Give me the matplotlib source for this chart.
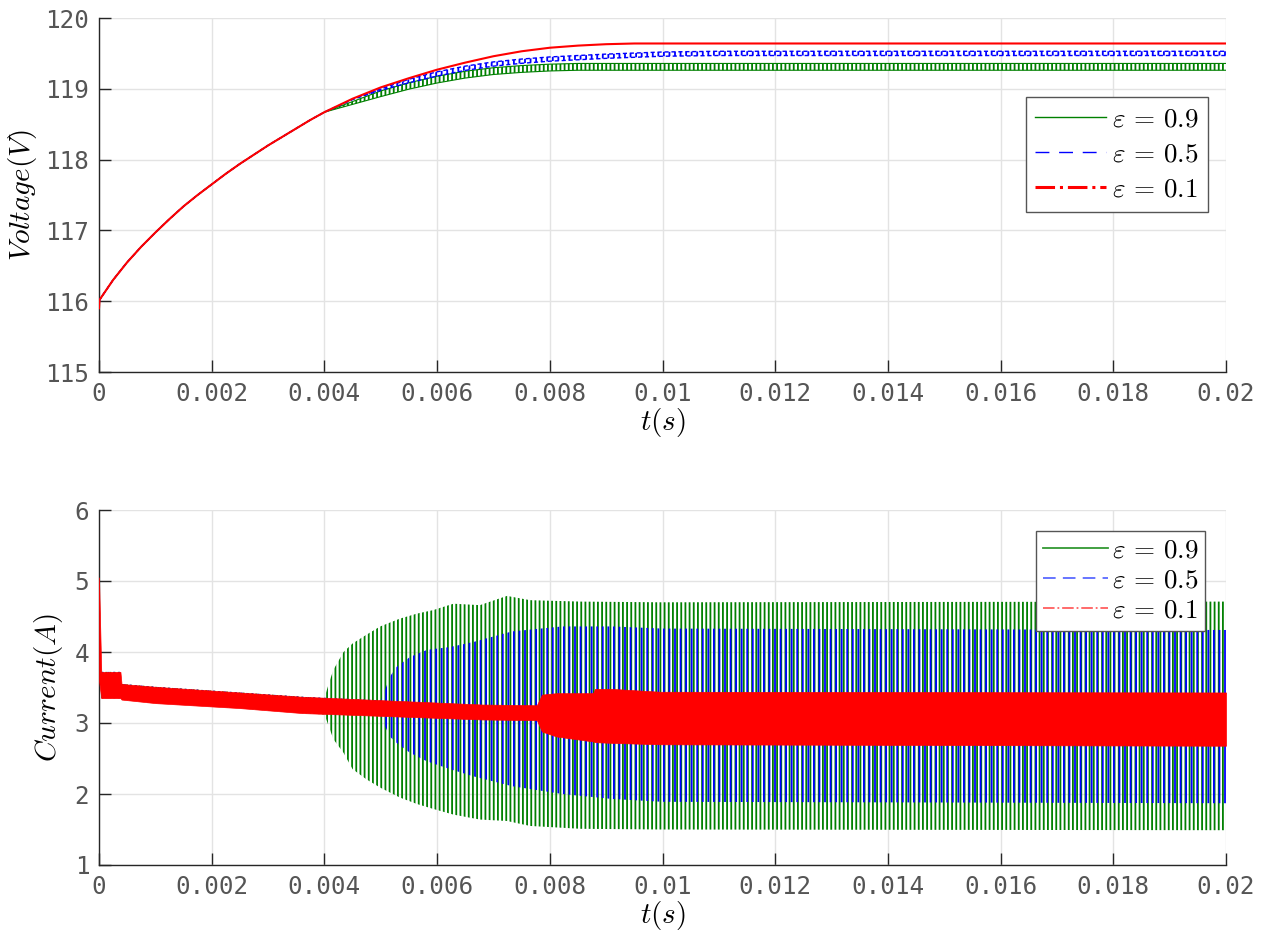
import numpy as np
import matplotlib
matplotlib.use('Agg')
import matplotlib.pyplot as plt
from matplotlib.lines import Line2D

# ---- voltage (top) : mid curve + ripple half amplitude
volt_t = [0, 0.00001, 0.00025, 0.0005, 0.00075, 0.001, 0.00125, 0.0015, 0.00175, 0.002,
          0.00225, 0.0025, 0.00275, 0.003, 0.00325, 0.0035, 0.00375, 0.004, 0.0045, 0.005,
          0.0055, 0.006, 0.0065, 0.007, 0.0075, 0.008, 0.0085, 0.009, 0.0095, 0.01,
          0.011, 0.02]
volt_red = [115.9, 116.02, 116.30, 116.55, 116.77, 116.97, 117.16, 117.34, 117.50, 117.65,
            117.80, 117.94, 118.07, 118.20, 118.32, 118.44, 118.56, 118.67, 118.86, 119.02,
            119.15, 119.27, 119.37, 119.46, 119.53, 119.58, 119.61, 119.63, 119.64, 119.64,
            119.64, 119.64]
volt_blue = [115.9, 116.02, 116.30, 116.55, 116.77, 116.97, 117.16, 117.34, 117.50, 117.65,
             117.80, 117.94, 118.07, 118.20, 118.32, 118.44, 118.56, 118.67, 118.85, 118.99,
             119.11, 119.21, 119.29, 119.35, 119.39, 119.42, 119.44, 119.46, 119.475, 119.49,
             119.50, 119.50]
volt_green = [115.9, 116.02, 116.30, 116.55, 116.77, 116.97, 117.16, 117.34, 117.50, 117.65,
              117.80, 117.94, 118.07, 118.20, 118.32, 118.44, 118.56, 118.67, 118.80, 118.93,
              119.04, 119.13, 119.20, 119.25, 119.28, 119.30, 119.31, 119.31, 119.31, 119.31,
              119.31, 119.31]
rip_blue = [0, 0, 0, 0, 0, 0, 0, 0, 0, 0,
            0, 0, 0, 0, 0, 0, 0, 0, 0, 0.01,
            0.025, 0.03, 0.03, 0.03, 0.03, 0.03, 0.03, 0.03, 0.03, 0.03,
            0.03, 0.03]
rip_green = [0, 0, 0, 0, 0, 0, 0, 0, 0, 0,
             0, 0, 0, 0, 0, 0, 0, 0, 0.02, 0.04,
             0.045, 0.048, 0.048, 0.048, 0.048, 0.048, 0.048, 0.048, 0.048, 0.048,
             0.048, 0.048]

# ---- current (bottom) : upper / lower envelope of the switching ripple
cur_t_green = [0, 0.00004, 0.00038, 0.0004, 0.001, 0.0025, 0.0036, 0.004, 0.00408, 0.00416,
               0.00434, 0.0045, 0.00474, 0.00499, 0.00534, 0.00564, 0.00593, 0.00629, 0.00676,
               0.00724, 0.00765, 0.00854, 0.00996, 0.02]
cur_hi_green = [5.05, 3.72, 3.72, 3.55, 3.51, 3.43, 3.37, 3.35, 3.56, 3.75,
                4.0, 4.12, 4.24, 4.36, 4.47, 4.54, 4.59, 4.68, 4.66,
                4.79, 4.73, 4.71, 4.70, 4.71]
cur_lo_green = [3.6, 3.35, 3.35, 3.33, 3.28, 3.21, 3.14, 3.12, 2.95, 2.77,
                2.58, 2.35, 2.21, 2.09, 1.95, 1.86, 1.79, 1.71, 1.64,
                1.62, 1.55, 1.51, 1.50, 1.49]

cur_t_blue = [0, 0.00004, 0.00038, 0.0004, 0.001, 0.0025, 0.0036, 0.005, 0.00508, 0.00516,
              0.00528, 0.00552, 0.00582, 0.00623, 0.00664, 0.00733, 0.00822, 0.00911, 0.01, 0.02]
cur_hi_blue = [5.05, 3.72, 3.72, 3.55, 3.51, 3.43, 3.37, 3.32, 3.47, 3.65,
               3.79, 3.93, 4.03, 4.07, 4.14, 4.29, 4.36, 4.36, 4.33, 4.31]
cur_lo_blue = [3.6, 3.35, 3.35, 3.33, 3.28, 3.21, 3.14, 3.10, 2.95, 2.81,
               2.72, 2.58, 2.46, 2.35, 2.25, 2.11, 2.00, 1.93, 1.89, 1.87]

cur_t_red = [0, 0.00004, 0.00038, 0.0004, 0.001, 0.0025, 0.0036, 0.0068, 0.00777, 0.00786,
             0.00812, 0.00877, 0.0088, 0.00911, 0.00996, 0.02]
cur_hi_red = [5.05, 3.72, 3.72, 3.55, 3.51, 3.43, 3.37, 3.26, 3.25, 3.40,
              3.42, 3.42, 3.48, 3.48, 3.44, 3.43]
cur_lo_red = [3.6, 3.35, 3.35, 3.33, 3.28, 3.21, 3.14, 3.05, 3.04, 2.88,
              2.81, 2.74, 2.73, 2.72, 2.70, 2.68]

labels = [r'$\varepsilon\,=\,0.9$', r'$\varepsilon\,=\,0.5$', r'$\varepsilon\,=\,0.1$']

GREEN = (0, 0.5, 0)
BLUE = (0, 0, 1)
RED = (1, 0, 0)
AXC = '#262626'
TICKC = '#555555'

plt.rcParams['mathtext.fontset'] = 'cm'
plt.rcParams['hatch.linewidth'] = 1.3


def style_axes(ax, ylim, yticks):
    ax.set_xlim(0, 0.02)
    ax.set_ylim(*ylim)
    ax.set_xticks(np.arange(0, 0.0201, 0.002))
    ax.set_xticklabels(['0'] + ['%g' % v for v in np.arange(0.002, 0.0201, 0.002)])
    ax.set_yticks(yticks)
    ax.grid(True, color='#e3e3e3', lw=1.0)
    ax.set_axisbelow(True)
    for s in ['top', 'right']:
        ax.spines[s].set_visible(False)
    for s in ['left', 'bottom']:
        ax.spines[s].set_color(AXC)
        ax.spines[s].set_linewidth(1.0)
    ax.tick_params(direction='in', length=8.5, width=1.0, color=AXC, labelcolor=TICKC,
                   labelsize=17.5, pad=7)
    for lab in ax.get_xticklabels() + ax.get_yticklabels():
        lab.set_family('DejaVu Sans Mono')
    ax.set_xlabel(r'$t(s)$', fontsize=21, labelpad=0)


fig = plt.figure(figsize=(12.72, 9.31), dpi=100)

# ---- top: voltage
ax1 = fig.add_axes([99 / 1272, 1 - 372 / 931, 1127 / 1272, 354 / 931])
vg = np.array(volt_green)
vb = np.array(volt_blue)
rg = np.array(rip_green)
rb = np.array(rip_blue)
ax1.fill_between(volt_t, vg - rg, vg + rg, facecolor='none', edgecolor=GREEN,
                 hatch='||||', linewidth=0, zorder=2)
ax1.plot(volt_t, vg - rg, color=GREEN, lw=0.8, zorder=2)
ax1.plot(volt_t, vg + rg, color=GREEN, lw=0.8, zorder=2)
ax1.fill_between(volt_t, vb - rb, vb + rb, facecolor='none', edgecolor=BLUE,
                 hatch='|||', linewidth=0, zorder=3)
ax1.plot(volt_t, vb - rb, color=BLUE, lw=1.0, ls=(0, (3, 2)), zorder=3)
ax1.plot(volt_t, vb + rb, color=BLUE, lw=1.0, ls=(0, (3, 2)), zorder=3)
ax1.plot(volt_t, volt_red, color=RED, lw=1.5, zorder=4)
style_axes(ax1, (115, 120), np.arange(115, 120.1, 1))
ax1.set_ylabel(r'$Voltage(V)$', fontsize=21)
ax1.yaxis.set_label_coords(-0.053, 0.5)

h_top = [Line2D([], [], color=GREEN, lw=1.0),
         Line2D([], [], color=BLUE, lw=1.0, ls=(0, (10, 7))),
         Line2D([], [], color=RED, lw=2.2, ls='-.')]
leg1 = ax1.legend(h_top, labels, loc='upper right', bbox_to_anchor=(0.984, 0.777),
                  borderaxespad=0, fontsize=19.5, handlelength=2.6, handletextpad=0.22,
                  labelspacing=0.32, borderpad=0.36, fancybox=False, framealpha=1,
                  edgecolor='#555555')
leg1.get_frame().set_linewidth(1.0)

# ---- bottom: current
ax2 = fig.add_axes([99 / 1272, 1 - 865 / 931, 1127 / 1272, 355 / 931])
ax2.fill_between(cur_t_green, cur_lo_green, cur_hi_green, facecolor='none',
                 edgecolor=GREEN, hatch='||||', linewidth=0, zorder=2)
ax2.fill_between(cur_t_blue, cur_lo_blue, cur_hi_blue, facecolor='none',
                 edgecolor=BLUE, hatch='|||', linewidth=0, zorder=3)
ax2.fill_between(cur_t_red, cur_lo_red, cur_hi_red, facecolor=RED,
                 edgecolor=RED, linewidth=0.5, zorder=4)
style_axes(ax2, (1, 6), np.arange(1, 6.1, 1))
ax2.set_ylabel(r'$Current(A)$', fontsize=21)
ax2.yaxis.set_label_coords(-0.030, 0.5)

h_bot = [Line2D([], [], color='#339933', lw=1.3),
         Line2D([], [], color='#5a6aff', lw=1.3, ls=(0, (7, 4))),
         Line2D([], [], color='#ff5f5f', lw=1.3, ls='-.')]
leg2 = ax2.legend(h_bot, labels, loc='upper right', bbox_to_anchor=(0.9814, 0.941),
                  borderaxespad=0, fontsize=19.5, handlelength=2.4, handletextpad=0.15,
                  labelspacing=0.15, borderpad=0.25, fancybox=False, framealpha=1,
                  edgecolor='#555555')
leg2.get_frame().set_linewidth(1.0)

fig.savefig('out.png', dpi=100)
